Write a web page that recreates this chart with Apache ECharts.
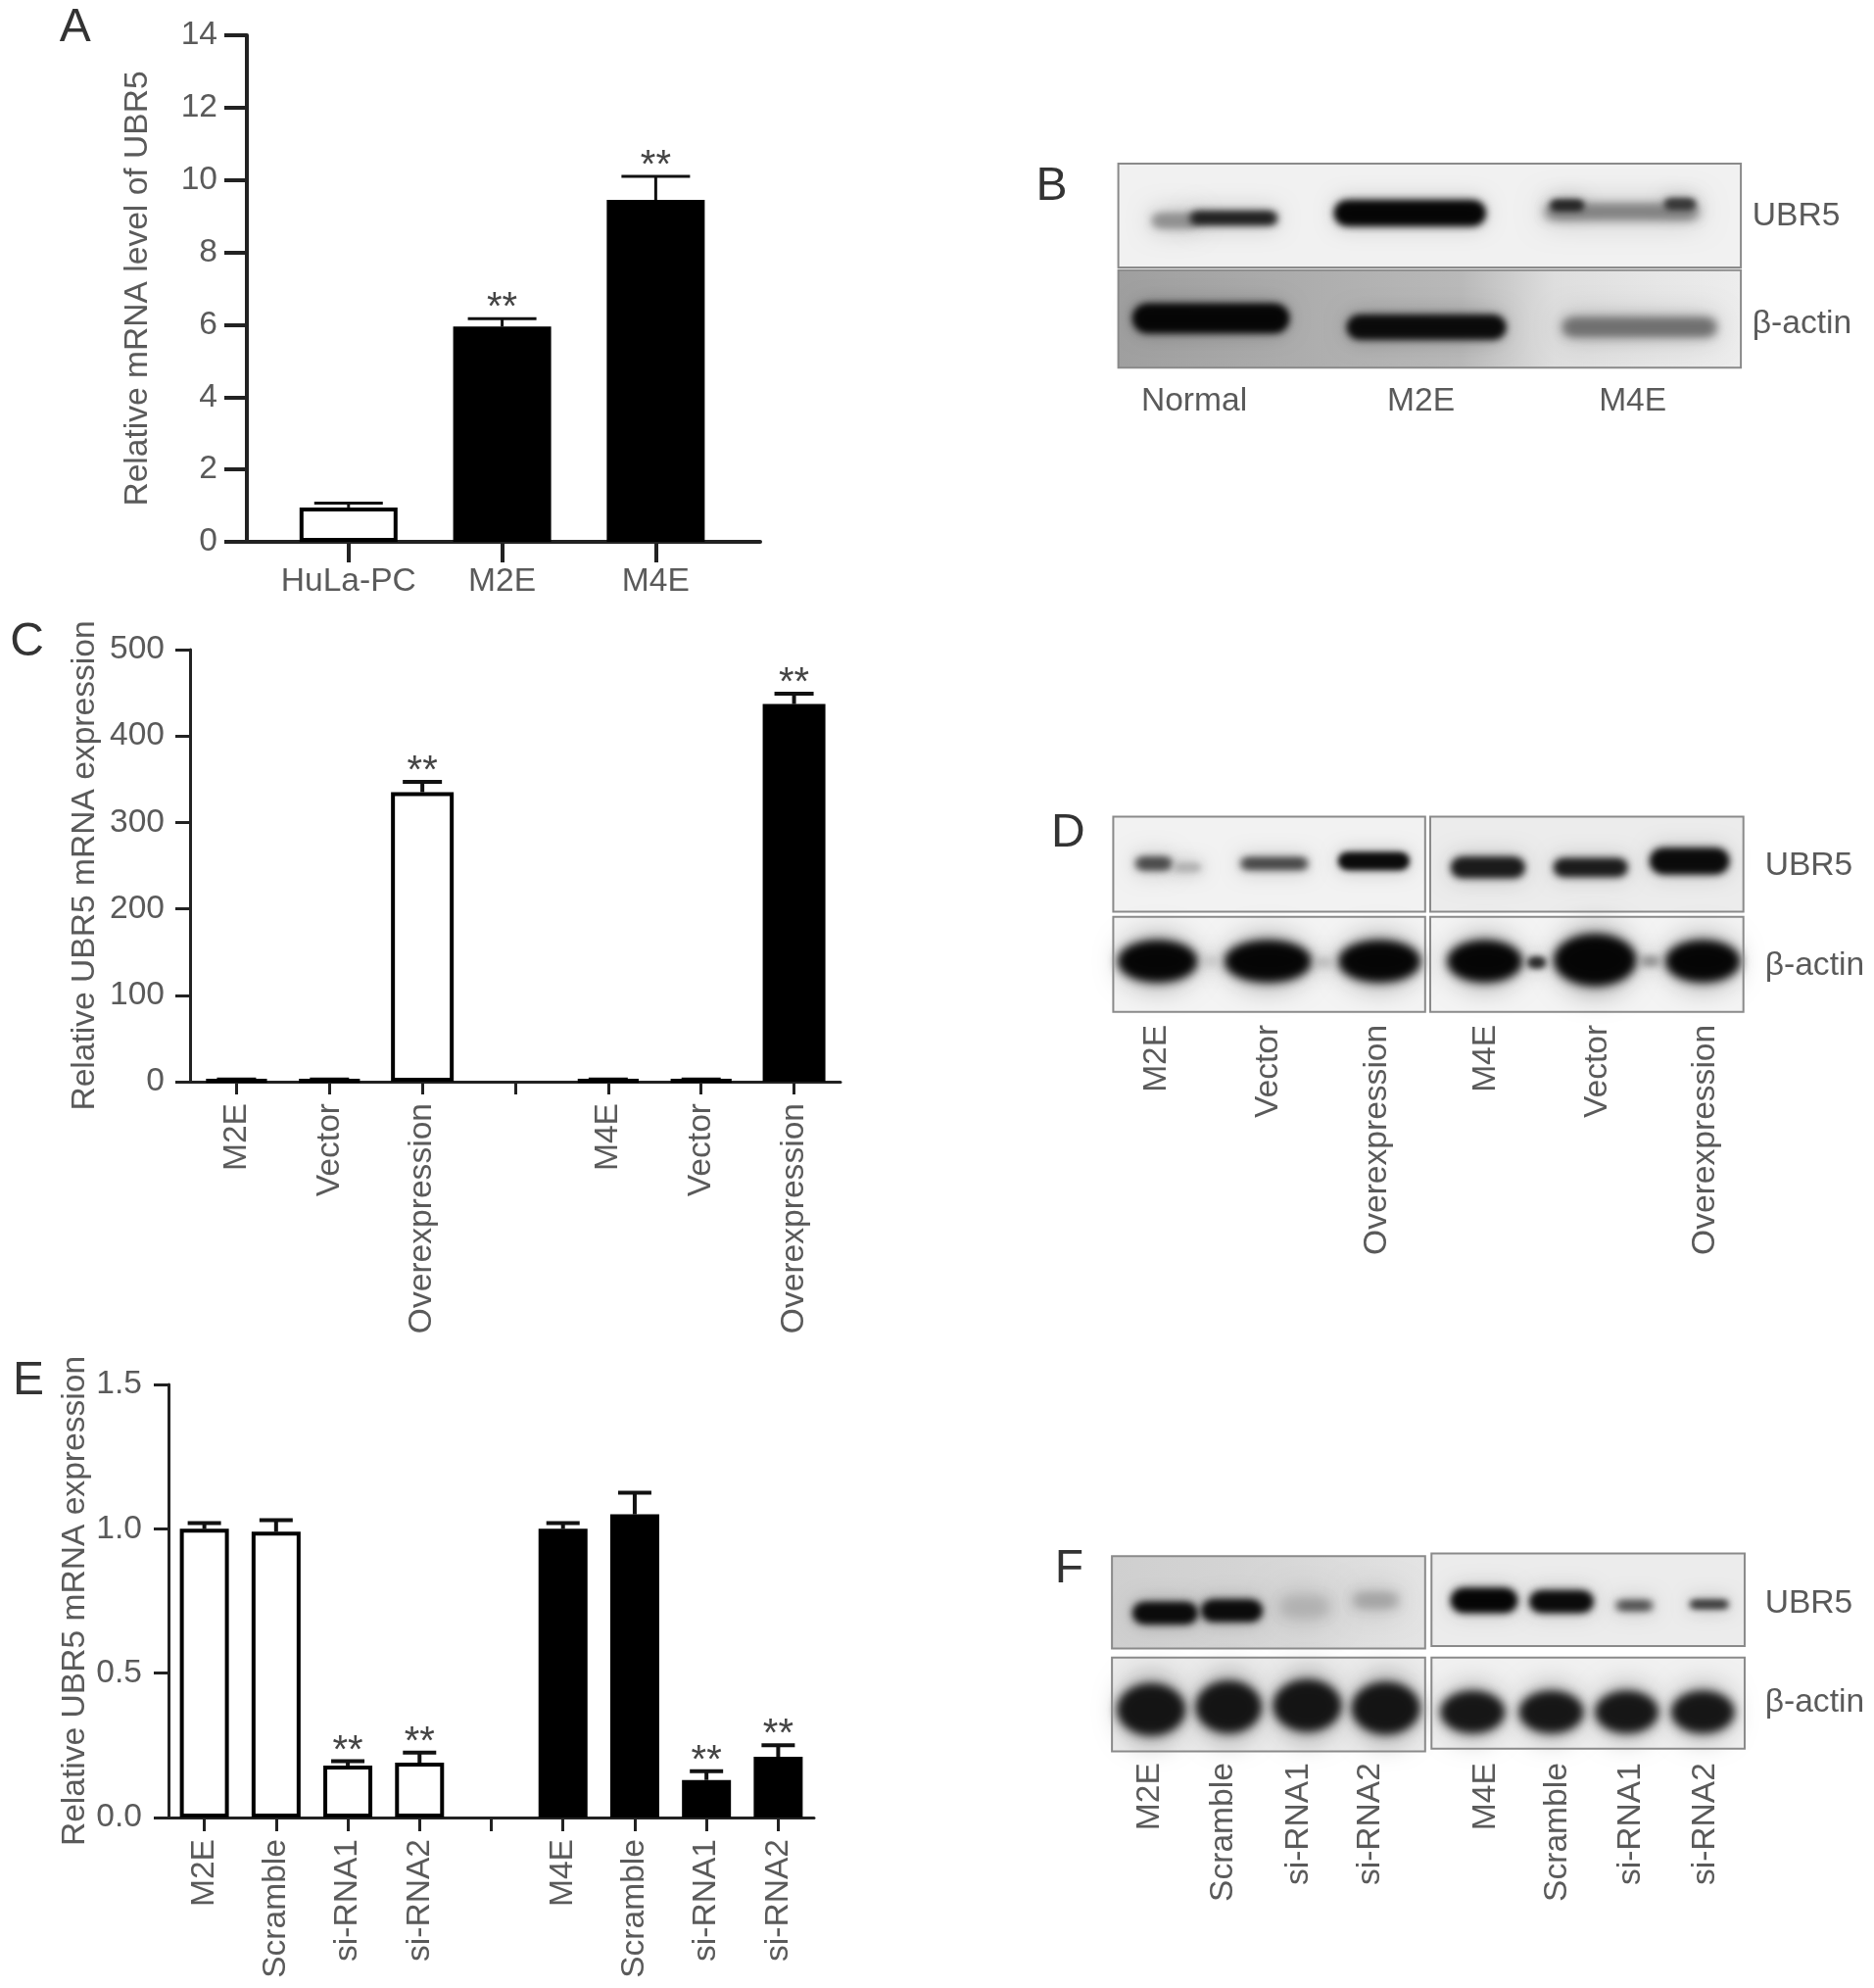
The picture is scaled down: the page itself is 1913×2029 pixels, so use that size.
<!DOCTYPE html>
<html>
<head>
<meta charset="utf-8">
<style>html,body{margin:0;padding:0;background:#fff}#c{width:1913px;height:2029px}</style>
<script src="https://cdn.jsdelivr.net/npm/echarts@6/dist/echarts.min.js"></script>
</head>
<body>
<div id="c"></div>
<script>
// ---- chart values ----
const catsA = ['HuLa-PC', 'M2E', 'M4E'];
const valsA = [0.95, 5.95, 9.45];
const topsA = [1.07, 6.17, 10.1];
const starsA = [0, 1, 1];
const hollowA = [1, 0, 0];

const catsC = ['M2E', 'Vector', 'Overexpression', '', 'M4E', 'Vector', 'Overexpression'];
const valsC = [2, 2, 335, null, 2, 2, 437];
const topsC = [2.5, 2.5, 347, null, 2.5, 2.5, 449];
const starsC = [0, 0, 1, 0, 0, 0, 1];
const hollowC = [1, 1, 1, 0, 0, 0, 0];

const catsE = ['M2E', 'Scramble', 'si-RNA1', 'si-RNA2', '', 'M4E', 'Scramble', 'si-RNA1', 'si-RNA2'];
const valsE = [1.0, 0.99, 0.18, 0.19, null, 1.0, 1.05, 0.13, 0.21];
const topsE = [1.02, 1.03, 0.195, 0.225, null, 1.02, 1.125, 0.16, 0.25];
const starsE = [0, 0, 1, 1, 0, 0, 0, 1, 1];
const hollowE = [1, 1, 1, 1, 0, 0, 0, 0, 0];

const nameA = 'Relative mRNA level of UBR5';
const nameCE = 'Relative UBR5 mRNA expression';
const laneD = ['M2E', 'Vector', 'Overexpression', 'M4E', 'Vector', 'Overexpression'];
const laneF = ['M2E', 'Scramble', 'si-RNA1', 'si-RNA2', 'M4E', 'Scramble', 'si-RNA1', 'si-RNA2'];
const laneB = ['Normal', 'M2E', 'M4E'];

// ---- styling ----
const FONT = '"Liberation Sans", Arial, sans-serif';
const FS = 33.6;
const TXT = '#5a5a5a', AX = '#222';
const S = 1913 / 1478;

const chart = echarts.init(document.getElementById('c'), null, {renderer: 'canvas'});

function yAxis(idx, max, interval, lw, tick, margin, gap, name, fs, fmt) {
  return {type: 'value', gridIndex: idx, min: 0, max, interval, splitLine: {show: false},
    axisLine: {show: true, onZero: false, lineStyle: {color: AX, width: lw}},
    axisTick: {show: true, length: tick, lineStyle: {color: AX, width: lw}},
    axisLabel: {color: TXT, fontSize: fs, fontFamily: FONT, margin, padding: [5, 0, 0, 0], formatter: fmt},
    name, nameLocation: 'middle', nameRotate: 90, nameGap: gap, nameMoveOverlap: false,
    nameTextStyle: {color: TXT, fontSize: FS, fontFamily: FONT}};
}
function xCat(idx, cats, lw, tick, margin) {
  return {type: 'category', gridIndex: idx, data: cats,
    axisLine: {show: true, onZero: false, lineStyle: {color: AX, width: lw}},
    axisTick: {show: true, alignWithLabel: true, interval: 0, length: tick, lineStyle: {color: AX, width: lw}},
    axisLabel: {color: TXT, fontSize: FS, fontFamily: FONT, rotate: 90, interval: 0, margin}};
}
function barSeries(idx, vals, hollow, width, border) {
  return {type: 'bar', xAxisIndex: idx, yAxisIndex: idx, barWidth: width, silent: true,
    data: vals,
    itemStyle: {borderColor: '#000', borderWidth: border,
      color: p => hollow[p.dataIndex] ? '#fff' : '#000'}};
}
function errSeries(idx, rows, capW, lw, starOff) {
  return {type: 'custom', xAxisIndex: idx, yAxisIndex: idx, silent: true, clip: false,
    encode: {x: 0, y: [1, 2]},
    data: rows,
    renderItem(params, api) {
      const x = api.value(0);
      const base = api.coord([x, api.value(1)]);
      const top = api.coord([x, api.value(2)]);
      const st = {stroke: '#111', lineWidth: lw};
      const ch = [
        {type: 'line', shape: {x1: base[0], y1: base[1], x2: top[0], y2: top[1]}, style: st},
        {type: 'line', shape: {x1: top[0] - capW / 2, y1: top[1], x2: top[0] + capW / 2, y2: top[1]}, style: st}
      ];
      if (api.value(3)) ch.push({type: 'text', x: top[0], y: top[1] - starOff,
        style: {text: '**', fill: '#444', font: '40px ' + FONT, align: 'center', verticalAlign: 'top'}});
      return {type: 'group', children: ch};
    }};
}
const rows = (vals, tops, stars, xs) => vals.map((v, i) => v == null ? null : [xs ? xs[i] : i, v, tops[i], stars[i]]).filter(Boolean);

// ---- western-blot panels and free text ----
// Bands are soft: the shape itself sits off-canvas and only its blurred shadow lands in the panel.
const G = [];
const OFF = 4000;
function box(x0, y0, x1, y1, fill) {
  G.push({type: 'rect', shape: {x: x0 * S, y: y0 * S, width: (x1 - x0) * S, height: (y1 - y0) * S},
    style: {fill}, z: 1});
  G.push({type: 'rect', shape: {x: x0 * S, y: y0 * S, width: (x1 - x0) * S, height: (y1 - y0) * S},
    style: {fill: 'none', stroke: '#8a8a8a', lineWidth: 2}, z: 4});
}
function soft(type, shape, color, blur, z) {
  G.push({type, shape, z, style: {fill: '#000', shadowColor: color, shadowBlur: blur, shadowOffsetX: OFF}});
}
function band(x0, x1, cy, h, gray, blur) {
  const b = blur == null ? 12 : blur;
  const w = (x1 - x0) * S, hh = h * S;
  const x = x0 * S - OFF, y = cy * S - hh / 2;
  soft('rect', {x, y: y - 3, width: w, height: hh + 6, r: hh / 2 + 3}, 'rgba(0,0,0,0.22)', b * 2.4, 2);
  const n = {x: x + 2, y: y + 1, width: w - 4, height: hh - 2, r: (hh - 2) / 2};
  soft('rect', n, gray, b, 3);
  soft('rect', n, gray, b, 3);
}
function blob(x0, x1, cy, h, gray) {
  const rx = (x1 - x0) * S / 2, ry = h * S / 2, cx = (x0 + x1) * S / 2 - OFF, yy = cy * S;
  soft('ellipse', {cx, cy: yy, rx: rx * 0.95, ry: ry * 1.45}, 'rgba(0,0,0,0.3)', 26, 2);
  soft('ellipse', {cx, cy: yy, rx: rx * 0.96, ry: ry * 0.96}, gray, 12, 3);
  soft('ellipse', {cx, cy: yy, rx: rx * 0.96, ry: ry * 0.96}, gray, 12, 3);
}
function txt(s, x, y, opt) {
  const rot = opt && opt.rot;
  G.push({type: 'text', x: (x + (rot ? 2 : 0)) * S, y: (y + (rot ? 0 : 1.5)) * S, rotation: rot ? Math.PI / 2 : 0, z: 5,
    style: Object.assign({text: s, fill: TXT, font: ((opt && opt.size) || FS) + 'px ' + FONT,
      align: 'left', verticalAlign: 'middle'}, rot ? {align: 'right'} : {}, opt && opt.st)});
}
const grad = stops => ({type: 'linear', x: 0, y: 0, x2: 1, y2: 0,
  colorStops: stops.map(s => ({offset: s[0], color: s[1]}))});

// letters
[['A', 47, 21], ['B', 817, 146], ['C', 8, 505], ['D', 829, 656], ['E', 10, 1088], ['F', 832, 1236]]
  .forEach(l => txt(l[0], l[1], l[2], {size: 48, st: {fill: '#333'}}));

// B
box(882, 129, 1373, 211, '#f1f1f1');
box(882, 213, 1373, 290, grad([[0, '#9f9f9f'], [0.55, '#b9b9b9'], [0.7, '#dedede'], [1, '#ededed']]));
band(908, 945, 174, 10, '#8e8e8e', 10);
band(938, 1008, 172, 10, '#1c1c1c', 9);
band(1052, 1172, 168, 19, '#050505', 8);
band(1218, 1340, 167, 10, '#7a7a7a', 12);
band(1222, 1250, 162, 8, '#222', 7);
band(1312, 1338, 161, 8, '#333', 7);
band(893, 1017, 251, 22, '#050505', 8);
band(1062, 1188, 258, 18, '#0a0a0a', 9);
band(1232, 1354, 258, 13, '#6e6e6e', 11);
txt('UBR5', 1382, 169); txt('β-actin', 1382, 254);
txt(laneB[0], 900, 315); txt(laneB[1], 1094, 315); txt(laneB[2], 1261, 315);

// D
box(878, 644, 1124, 719, '#f2f2f2'); box(1128, 644, 1375, 719, '#ececec');
box(878, 723, 1124, 798, '#f4f4f4'); box(1128, 723, 1375, 798, '#f4f4f4');
band(895, 925, 681, 9, '#444', 9); band(925, 948, 684, 5, '#aaa', 7);
band(978, 1032, 681, 8, '#3c3c3c', 8);
band(1055, 1112, 679, 13, '#0a0a0a', 7);
band(1144, 1203, 684, 15, '#1a1a1a', 9);
band(1225, 1284, 684, 13, '#1a1a1a', 8);
band(1301, 1364, 679, 19, '#0a0a0a', 8);
[[882, 944], [966, 1034], [1056, 1120], [1142, 1200], [1226, 1290], [1314, 1372]]
  .forEach((b, i) => blob(b[0], b[1], i === 4 ? 757 : 758, i === 4 ? 38 : 30, '#050505'));
band(1204, 1220, 759, 8, '#222', 7); band(1293, 1310, 758, 5, '#777', 8);
band(948, 962, 758, 4, '#bbb', 8); band(1036, 1052, 759, 4, '#aaa', 8);
txt('UBR5', 1392, 681); txt('β-actin', 1392, 760);
[910, 998, 1084, 1170, 1258, 1343].forEach((x, i) => txt(laneD[i], x, 808, {rot: 1}));

// F
box(877, 1227, 1124, 1300, grad([[0, '#cfcfcf'], [0.4, '#d4d4d4'], [1, '#e4e4e4']])); box(1129, 1225, 1376, 1298, '#ececec');
box(877, 1307, 1124, 1381, '#ececec'); box(1129, 1307, 1376, 1379, '#f1f1f1');
band(893, 945, 1272, 16, '#0a0a0a', 8); band(947, 996, 1270, 16, '#0a0a0a', 8);
band(1010, 1048, 1267, 12, '#b0b0b0', 14); band(1067, 1103, 1262, 9, '#a0a0a0', 12);
band(1144, 1197, 1262, 18, '#050505', 8); band(1206, 1257, 1263, 16, '#0a0a0a', 8);
band(1274, 1304, 1266, 6, '#333', 8); band(1332, 1364, 1265, 6, '#2a2a2a', 7);
[[882, 934], [944, 994], [1005, 1057], [1067, 1119]].forEach((b, i) => blob(b[0], b[1], [1348, 1346, 1345, 1347][i], 38, '#141414'));
[[1137, 1186], [1199, 1248], [1259, 1307], [1319, 1367]].forEach(b => blob(b[0], b[1], 1350, 30, '#161616'));
txt('UBR5', 1392, 1263); txt('β-actin', 1392, 1341);
[905, 963, 1022, 1079, 1170, 1226, 1284, 1343].forEach((x, i) => txt(laneF[i], x, 1390, {rot: 1}));

// ---- panel A uses a numeric position axis so the bars sit off the axis ends ----
const xsA = [0, 1, 2];

chart.setOption({
  animation: false,
  backgroundColor: '#fff',
  grid: [
    {left: 252, top: 36, width: 524, height: 517},
    {left: 194, top: 663, width: 664, height: 441},
    {left: 172, top: 1413, width: 659, height: 442}
  ],
  xAxis: [
    {type: 'value', gridIndex: 0, min: -0.662, max: 2.68, splitLine: {show: false},
      axisLine: {show: true, onZero: false, lineStyle: {color: AX, width: 4}},
      axisTick: {show: true, length: 21, customValues: xsA, lineStyle: {color: AX, width: 4}},
      axisLabel: {color: TXT, fontSize: FS, fontFamily: FONT, margin: 24, customValues: xsA, formatter: v => catsA[v]}},
    xCat(1, catsC, 3, 13, 22),
    xCat(2, catsE, 3, 14, 22)
  ],
  yAxis: [
    yAxis(0, 14, 2, 4, 23, 30, 94, nameA, FS),
    yAxis(1, 500, 100, 3, 15, 26, 90, nameCE, FS),
    yAxis(2, 1.5, 0.5, 3, 15, 27, 78, nameCE, FS, v => v.toFixed(1))
  ],
  series: [
    barSeries(0, valsA.map((v, i) => [xsA[i], v]), hollowA, 100, 4),
    errSeries(0, rows(valsA, topsA, starsA, xsA), 70, 3, 30),
    barSeries(1, valsC, hollowC, 64, 4),
    errSeries(1, rows(valsC, topsC, starsC), 40, 4, 30),
    barSeries(2, valsE, hollowE, 50, 4),
    errSeries(2, rows(valsE, topsE, starsE), 34, 4, 30)
  ],
  graphic: G
});
</script>
</body>
</html>
